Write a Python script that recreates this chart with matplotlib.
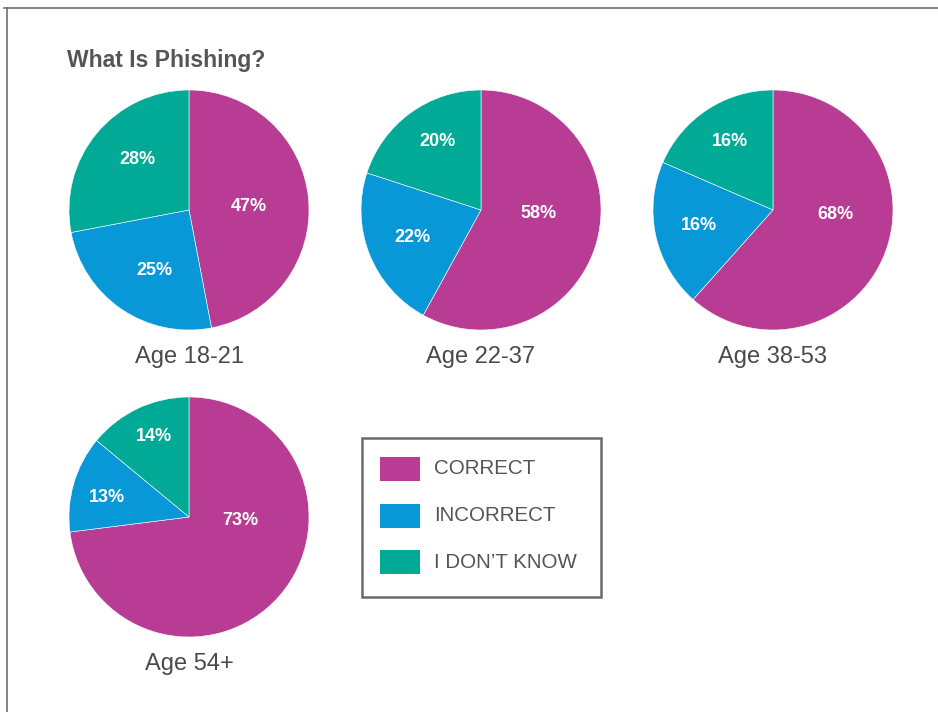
import matplotlib
matplotlib.use("Agg")
import matplotlib.pyplot as plt
from matplotlib.patches import Rectangle
from matplotlib.lines import Line2D

plt.rcParams["font.family"] = ["Liberation Sans", "DejaVu Sans"]

W, H = 938, 712

TITLE      = "What Is Phishing?"
CATEGORIES = ["CORRECT", "INCORRECT", "I DON\u2019T KNOW"]
COLOURS    = ["#B83C93", "#0898D8", "#00AA96"]

GROUPS    = ["Age 18-21", "Age 22-37", "Age 38-53", "Age 54+"]
CORRECT   = [47, 58, 68, 73]
INCORRECT = [25, 22, 16, 13]
DONT_KNOW = [28, 20, 16, 14]

# wedge sizes as actually drawn in the original (the 38-53 pie is not drawn to its labels)
DRAWN_CORRECT   = [47, 58, 61.6, 73]
DRAWN_INCORRECT = [25, 22, 19.9, 13]
DRAWN_DONT_KNOW = [28, 20, 18.5, 14]

# pie centres in pixels (top-down) and radius
CENTRES = [(189, 210), (481, 210), (773, 210), (189, 517)]
R = 120
# label offsets inside each pie, in units of radius (correct, incorrect, don't know)
LABEL_POS = [
    [(0.50, 0.03), (-0.29, -0.50), (-0.43, 0.42)],
    [(0.48, -0.03), (-0.57, -0.23), (-0.36, 0.57)],
    [(0.52, -0.04), (-0.62, -0.13), (-0.36, 0.57)],
    [(0.43, -0.03), (-0.68, 0.16), (-0.29, 0.67)],
]

fig = plt.figure(figsize=(W / 100, H / 100), dpi=100)
fig.patch.set_facecolor("white")

# frame lines (top and left)
fig.add_artist(Line2D([4 / W, 1], [1 - 8 / H, 1 - 8 / H], color="#707070", lw=1.2))
fig.add_artist(Line2D([7 / W, 7 / W], [0, 1 - 8 / H], color="#707070", lw=1.2))

fig.text(67 / W, 1 - 60 / H, TITLE, fontsize=16.5, fontweight="bold",
         color="#555555", va="center", ha="left")

for i, name in enumerate(GROUPS):
    cx, cy = CENTRES[i]
    ax = fig.add_axes([(cx - R) / W, 1 - (cy + R) / H, 2 * R / W, 2 * R / H])
    drawn = [DRAWN_CORRECT[i], DRAWN_INCORRECT[i], DRAWN_DONT_KNOW[i]]
    vals = [CORRECT[i], INCORRECT[i], DONT_KNOW[i]]
    ax.pie(drawn, colors=COLOURS, startangle=90, counterclock=False,
           wedgeprops=dict(edgecolor="white", linewidth=0.4))
    ax.set_xlim(-1, 1)
    ax.set_ylim(-1, 1)
    ax.set_aspect("equal")
    ax.axis("off")
    for v, (lx, ly) in zip(vals, LABEL_POS[i]):
        ax.text(lx, ly, f"{v}%", color="white", fontsize=13, fontweight="bold",
                ha="center", va="center")
    fig.text(cx / W, 1 - (cy + 147) / H, name, fontsize=17, color="#4a4a4a",
             ha="center", va="center")

# legend box
fig.add_artist(Rectangle((362 / W, 1 - 597 / H), (601 - 362) / W, (597 - 438) / H,
                         transform=fig.transFigure, fill=False,
                         edgecolor="#6a6a6a", lw=1.8))
for j, (lab, col) in enumerate(zip(CATEGORIES, COLOURS)):
    yc = 469 + j * 46.5
    fig.add_artist(Rectangle((380 / W, 1 - (yc + 12) / H), 40 / W, 24 / H,
                             transform=fig.transFigure, facecolor=col, edgecolor="none"))
    fig.text(434 / W, 1 - yc / H, lab, fontsize=14.8, color="#555555",
             ha="left", va="center")

plt.savefig("out.png", dpi=100, facecolor=fig.get_facecolor())
plt.close()
